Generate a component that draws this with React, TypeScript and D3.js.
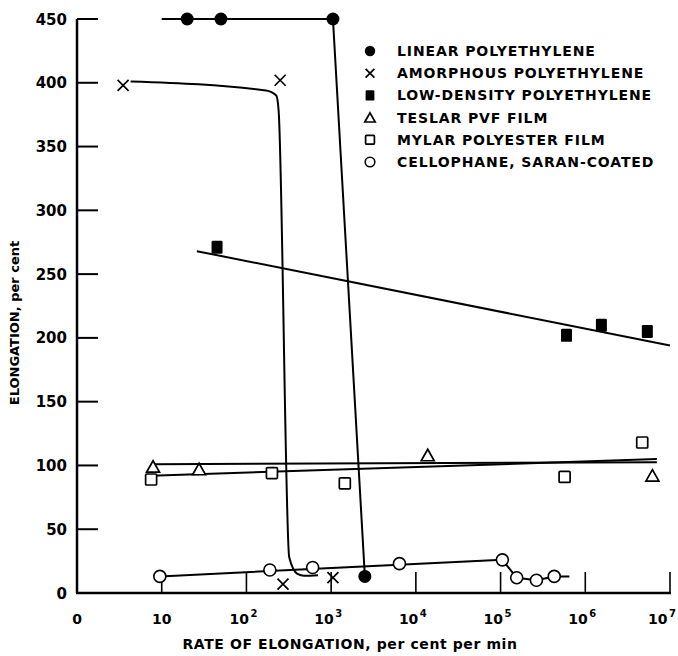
import React, { useRef, useEffect } from 'react';
import * as d3 from 'd3';

const WIDTH = 678;
const HEIGHT = 656;
const FONT = '"DejaVu Sans", sans-serif';

// [rate of elongation (per cent per min), elongation (per cent)]
const linearPoints = [[20, 450], [50, 450], [1050, 450], [2500, 13]];
const linearLine = [[10, 450], [1050, 450], [2500, 13]];

const amorphousPoints = [[3.5, 398], [250, 402], [270, 7], [1050, 12]];
const amorphousLine = [[4.3, 401], [170, 394], [225, 390], [240, 378], [320, 28], [400, 15], [480, 13.5], [700, 14]];

const lowDensityPoints = [[45, 271], [6.0e5, 202], [1.55e6, 210], [5.4e6, 205]];
const lowDensityLine = [[26, 268], [1e7, 194]];

const teslarPoints = [[7.9, 99], [27.6, 97], [13800, 108], [6.2e6, 92]];
const teslarLine = [[8, 101], [7e6, 102.5]];

const mylarPoints = [[7.5, 89], [200, 94], [1450, 86], [5.7e5, 91], [4.7e6, 118]];
const mylarLine = [[7.5, 92], [7e6, 105]];

const cellophanePoints = [[9.5, 13], [189, 18], [605, 20], [6400, 23], [1.05e5, 26], [1.55e5, 12], [2.65e5, 10], [4.3e5, 13]];
const cellophaneLine = [[9.5, 13], [1.05e5, 26], [1.55e5, 12], [2.65e5, 10], [4.3e5, 13], [6.5e5, 13]];

const xTicks = [1, 10, 1e2, 1e3, 1e4, 1e5, 1e6, 1e7];
const xTickExponents = ['', '', '2', '3', '4', '5', '6', '7'];
const yTicks = [0, 50, 100, 150, 200, 250, 300, 350, 400, 450];

const legendLabels = [
  'LINEAR POLYETHYLENE',
  'AMORPHOUS POLYETHYLENE',
  'LOW-DENSITY POLYETHYLENE',
  'TESLAR PVF FILM',
  'MYLAR POLYESTER FILM',
  'CELLOPHANE, SARAN-COATED',
];
const legendSymbols = ['dot', 'cross', 'square', 'triangle', 'box', 'ring'];

const drawSymbol = (g, type, scale = 1) => {
  const s = scale;
  if (type === 'dot') {
    g.append('circle').attr('r', 6.5 * s).attr('fill', '#000');
  } else if (type === 'cross') {
    g.append('path')
      .attr('d', `M${-5.5 * s},${-5.5 * s}L${5.5 * s},${5.5 * s}M${5.5 * s},${-5.5 * s}L${-5.5 * s},${5.5 * s}`)
      .attr('stroke', '#000').attr('stroke-width', 1.7).attr('fill', 'none');
  } else if (type === 'square') {
    g.append('rect')
      .attr('x', -5.5 * s).attr('y', -6.5 * s)
      .attr('width', 11 * s).attr('height', 13 * s)
      .attr('rx', 1.2).attr('fill', '#000');
  } else if (type === 'triangle') {
    g.append('path')
      .attr('d', `M0,${-6 * s}L${6.5 * s},${5.5 * s}L${-6.5 * s},${5.5 * s}Z`)
      .attr('fill', '#fff').attr('stroke', '#000').attr('stroke-width', 1.7);
  } else if (type === 'box') {
    g.append('rect')
      .attr('x', -5.5 * s).attr('y', -5.5 * s)
      .attr('width', 11 * s).attr('height', 11 * s)
      .attr('rx', 1).attr('fill', '#fff').attr('stroke', '#000').attr('stroke-width', 1.7);
  } else {
    g.append('circle').attr('r', 6 * s)
      .attr('fill', '#fff').attr('stroke', '#000').attr('stroke-width', 1.6);
  }
};

const ElongationChart = () => {
  const svgRef = useRef(null);

  useEffect(() => {
    const svg = d3.select(svgRef.current);
    svg.selectAll('*').remove();

    const x = d3.scaleLog().domain([1, 1e7]).range([77, 670]);
    const y = d3.scaleLinear().domain([0, 450]).range([593, 19]);

    // Axes
    const axis = svg.append('g').attr('stroke', '#000').attr('fill', 'none');
    axis.append('line')
      .attr('x1', x(1)).attr('x2', x(1))
      .attr('y1', y(0)).attr('y2', y(450))
      .attr('stroke-width', 2.5);
    axis.append('line')
      .attr('x1', x(1) - 1).attr('x2', x(1e7) + 1)
      .attr('y1', y(0)).attr('y2', y(0))
      .attr('stroke-width', 2.5);

    axis.selectAll('.ytick')
      .data(yTicks.filter(d => d > 0))
      .join('line')
      .attr('class', 'ytick')
      .attr('x1', x(1)).attr('x2', x(1) + 21)
      .attr('y1', d => y(d)).attr('y2', d => y(d))
      .attr('stroke-width', 2);

    axis.selectAll('.xtick')
      .data(xTicks.slice(1))
      .join('line')
      .attr('class', 'xtick')
      .attr('x1', d => x(d)).attr('x2', d => x(d))
      .attr('y1', y(0)).attr('y2', y(0) - 21)
      .attr('stroke-width', 1.6);

    // Tick labels
    svg.selectAll('.ylabel')
      .data(yTicks)
      .join('text')
      .attr('class', 'ylabel')
      .attr('x', 67)
      .attr('y', d => y(d) + 5.5)
      .attr('text-anchor', 'end')
      .attr('font-family', FONT)
      .attr('font-weight', 'bold')
      .attr('font-size', 15)
      .text(d => d);

    xTicks.forEach((t, i) => {
      const label = svg.append('text')
        .attr('x', x(t) - (xTickExponents[i] ? 3 : 0))
        .attr('y', 624)
        .attr('text-anchor', 'middle')
        .attr('font-family', FONT)
        .attr('font-weight', 'bold')
        .attr('font-size', 14);
      label.append('tspan').text(i === 0 ? '0' : '10');
      if (xTickExponents[i]) {
        label.append('tspan')
          .attr('dy', -7)
          .attr('dx', 1.5)
          .attr('font-size', 10)
          .text(xTickExponents[i]);
      }
      // keep the last label inside the page
      const box = label.node().getBBox();
      if (box.x + box.width > WIDTH - 2) {
        label.attr('x', +label.attr('x') - (box.x + box.width - (WIDTH - 2)));
      }
    });

    // Axis titles
    svg.append('text')
      .attr('transform', `translate(19, ${323}) rotate(-90)`)
      .attr('text-anchor', 'middle')
      .attr('font-family', FONT)
      .attr('font-weight', 'bold')
      .attr('font-size', 13)
      .text('ELONGATION, per cent');

    svg.append('text')
      .attr('x', 350)
      .attr('y', 649)
      .attr('text-anchor', 'middle')
      .attr('font-family', FONT)
      .attr('font-weight', 'bold')
      .attr('font-size', 14)
      .attr('letter-spacing', 0.6)
      .text('RATE OF ELONGATION, per cent per min');

    // Curves
    const straight = d3.line().x(d => x(d[0])).y(d => y(d[1]));
    const smooth = d3.line().x(d => x(d[0])).y(d => y(d[1])).curve(d3.curveMonotoneX);

    const curves = [
      { data: linearLine, gen: straight },
      { data: amorphousLine, gen: smooth },
      { data: lowDensityLine, gen: straight },
      { data: teslarLine, gen: straight },
      { data: mylarLine, gen: straight },
      { data: cellophaneLine, gen: straight },
    ];

    svg.append('g')
      .selectAll('path')
      .data(curves)
      .join('path')
      .attr('d', d => d.gen(d.data))
      .attr('fill', 'none')
      .attr('stroke', '#000')
      .attr('stroke-width', 2)
      .attr('stroke-linejoin', 'round');

    // Points
    const series = [
      { points: linearPoints, symbol: 'dot' },
      { points: amorphousPoints, symbol: 'cross' },
      { points: lowDensityPoints, symbol: 'square' },
      { points: teslarPoints, symbol: 'triangle' },
      { points: mylarPoints, symbol: 'box' },
      { points: cellophanePoints, symbol: 'ring' },
    ];

    series.forEach(s => {
      s.points.forEach(p => {
        const g = svg.append('g').attr('transform', `translate(${x(p[0])}, ${y(p[1])})`);
        drawSymbol(g, s.symbol);
      });
    });

    // Legend
    const legend = svg.append('g').attr('transform', 'translate(370, 51)');
    legendLabels.forEach((label, i) => {
      const row = legend.append('g').attr('transform', `translate(0, ${i * 22.2})`);
      drawSymbol(row, legendSymbols[i], 0.8);
      row.append('text')
        .attr('x', 27)
        .attr('y', 5)
        .attr('font-family', FONT)
        .attr('font-weight', 'bold')
        .attr('font-size', 14)
        .attr('letter-spacing', 0.9)
        .text(label);
    });
  }, []);

  return (
    <svg
      ref={svgRef}
      width={WIDTH}
      height={HEIGHT}
      viewBox={`0 0 ${WIDTH} ${HEIGHT}`}
      style={{ position: 'absolute', left: 0, top: 0, background: '#fff' }}
    />
  );
};

export default function App() {
  return <ElongationChart />;
}
